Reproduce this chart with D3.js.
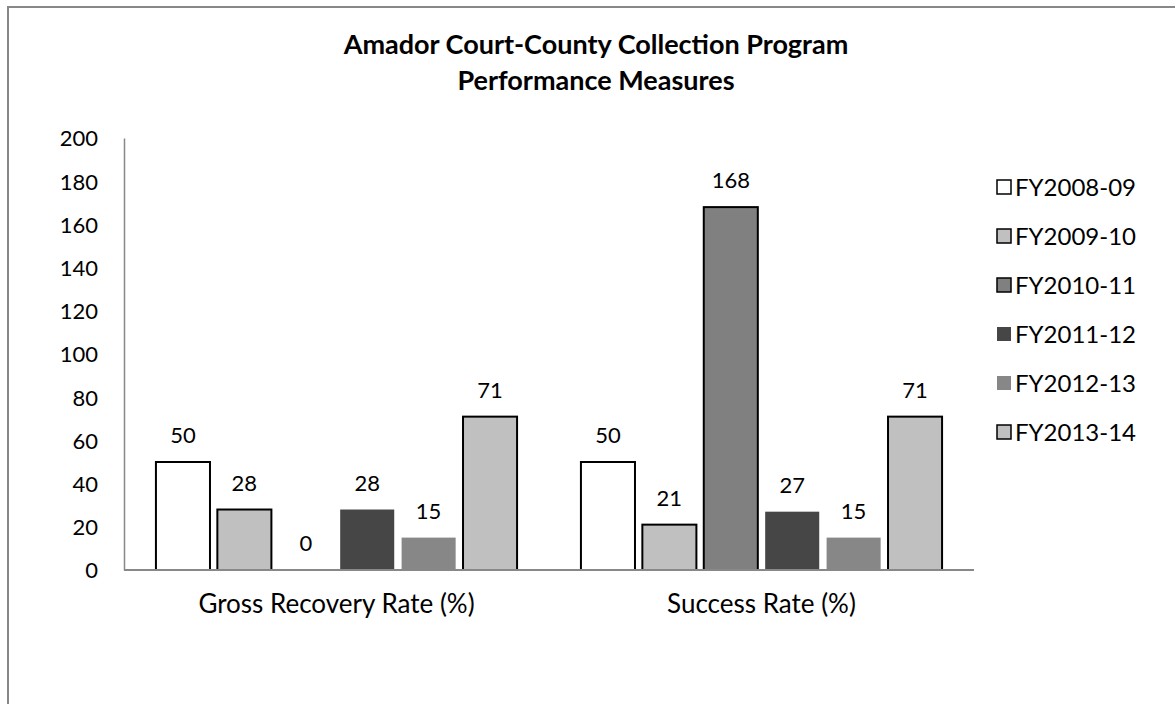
<!DOCTYPE html>
<html>
<head>
<meta charset="utf-8">
<script src="https://cdn.jsdelivr.net/npm/d3@7"></script>
<style>
  body { margin: 0; background: #fff; }
  text { font-family: Lato, "Open Sans", sans-serif; fill: #000; }
</style>
</head>
<body>
<div id="chart"></div>
<script>
var categories = ['Gross Recovery Rate (%)', 'Success Rate (%)']
var seriesNames = ['FY2008-09', 'FY2009-10', 'FY2010-11', 'FY2011-12', 'FY2012-13', 'FY2013-14']
// one row per series, one value per category
var seriesValues = [
  [50, 50],
  [28, 21],
  [0, 168],
  [28, 27],
  [15, 15],
  [71, 71]
]
var yTicks = [0, 20, 40, 60, 80, 100, 120, 140, 160, 180, 200]
var titleLines = ['Amador Court-County Collection Program', 'Performance Measures']

var fills = ['#ffffff', '#c0c0c0', '#808080', '#464646', '#878787', '#c0c0c0']
var strokes = ['#000', '#000', '#000', 'none', 'none', '#000']

var W = 1175, H = 704
var m = { left: 124, right: 974, top: 138, bottom: 570 }

var svg = d3.select('#chart')
  .append('svg')
  .attr('width', W)
  .attr('height', H)

// chart area border (right and bottom fall outside the picture)
svg.append('path')
  .attr('d', 'M8,' + (H + 5) + 'V7H' + (W + 5))
  .attr('fill', 'none')
  .attr('stroke', '#888')
  .attr('stroke-width', 2)

svg.append('text')
  .attr('text-anchor', 'middle')
  .style('font-weight', 'bold')
  .style('font-size', '27px')
  .selectAll('tspan')
  .data(titleLines)
  .enter()
  .append('tspan')
  .attr('x', 596)
  .attr('y', (d, i) => 54 + i * 36)
  .text(d => d)

var y = d3.scaleLinear()
  .domain([0, 200])
  .range([m.bottom, m.top])

var x0 = d3.scaleBand()
  .domain(categories)
  .range([m.left, m.right])

var x1 = d3.scaleBand()
  .domain(seriesNames)
  .range([0, x0.bandwidth()])
  .paddingInner(0.12)
  .paddingOuter(0.52)

// y axis
var yAxis = svg.append('g')
  .attr('transform', `translate(${m.left},0)`)
  .call(d3.axisLeft(y).tickValues(yTicks).tickSize(0).tickPadding(26))
yAxis.select('.domain').attr('stroke', '#888').attr('stroke-width', 1.5)
yAxis.selectAll('text')
  .style('font-family', 'Lato, sans-serif')
  .style('font-size', '22px')
  .attr('dy', '0.36em')

var rows = seriesNames.map((s, i) => ({ name: s, i: i, values: seriesValues[i] }))

var groups = svg.selectAll('.series')
  .data(rows)
  .enter()
  .append('g')
  .attr('class', 'series')

groups.selectAll('rect')
  .data(d => categories.map((c, j) => ({ cat: c, v: d.values[j], s: d.name, i: d.i })))
  .enter()
  .append('rect')
  .attr('x', d => x0(d.cat) + x1(d.s))
  .attr('y', d => y(d.v))
  .attr('width', x1.bandwidth())
  .attr('height', d => y(0) - y(d.v))
  .attr('fill', d => fills[d.i])
  .attr('stroke', d => d.v === 0 ? 'none' : strokes[d.i])
  .attr('stroke-width', 2)

groups.selectAll('.lab')
  .data(d => categories.map((c, j) => ({ cat: c, v: d.values[j], s: d.name })))
  .enter()
  .append('text')
  .attr('class', 'lab')
  .attr('x', d => x0(d.cat) + x1(d.s) + x1.bandwidth() / 2)
  .attr('y', d => y(d.v) - 19)
  .attr('text-anchor', 'middle')
  .style('font-size', '22px')
  .text(d => d.v)

// x axis line and category labels
svg.append('line')
  .attr('x1', m.left)
  .attr('x2', m.right)
  .attr('y1', y(0))
  .attr('y2', y(0))
  .attr('stroke', '#888')
  .attr('stroke-width', 2)

svg.selectAll('.cat')
  .data(categories)
  .enter()
  .append('text')
  .attr('class', 'cat')
  .attr('x', d => x0(d) + x0.bandwidth() / 2)
  .attr('y', 613)
  .attr('text-anchor', 'middle')
  .style('font-size', '26px')
  .text(d => d)

// legend
var legend = svg.selectAll('.legend')
  .data(rows)
  .enter()
  .append('g')
  .attr('class', 'legend')
  .attr('transform', d => `translate(996,${187 + d.i * 49})`)

legend.append('rect')
  .attr('x', 1)
  .attr('y', -7)
  .attr('width', 14)
  .attr('height', 14)
  .attr('fill', d => fills[d.i])
  .attr('stroke', d => strokes[d.i])
  .attr('stroke-width', 1.5)

legend.append('text')
  .attr('x', 19)
  .attr('dy', '0.36em')
  .style('font-size', '24px')
  .text(d => d.name)
</script>
</body>
</html>
